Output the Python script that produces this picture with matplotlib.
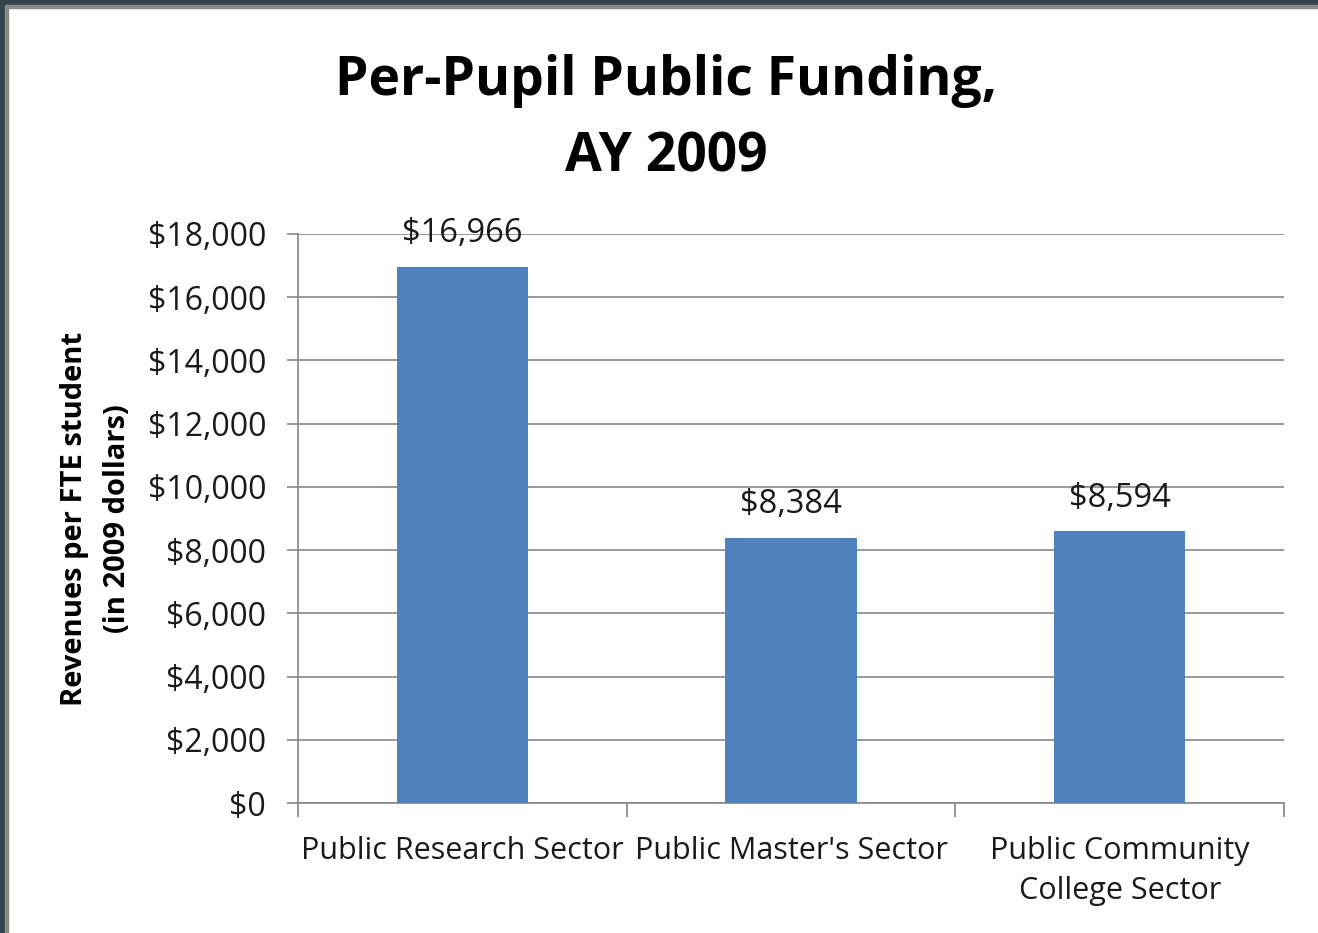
import matplotlib.pyplot as plt
import numpy as np
from matplotlib.ticker import FuncFormatter, FixedLocator

# funding per FTE student by sector
sectors = ['Public Research Sector', "Public Master's Sector", 'Public Community\nCollege Sector']
revenues = [16966, 8384, 8594]
bar_labels = ['$16,966', '$8,384', '$8,594']

plt.rcParams['font.family'] = ['Open Sans', 'DejaVu Sans']

fig = plt.figure(figsize=(13.18, 9.33), dpi=100)
ax = fig.add_axes([298/1318, 1 - 803/933, (1284-298)/1318, (803-234)/933])

x = np.arange(len(sectors))
bars = ax.bar(x, revenues, width=0.4, color='#4f81bd', zorder=3)

ax.set_xlim(-0.5, 2.5)
ax.set_ylim(0, 18000)
ax.yaxis.set_major_locator(FixedLocator(np.arange(0, 18001, 2000)))
ax.yaxis.set_major_formatter(FuncFormatter(lambda v, p: '${:,.0f}'.format(v)))
ax.grid(axis='y', color='#868686', linewidth=1.2, zorder=0)

ax.set_xticks(x)
ax.set_xticklabels(sectors, fontsize=22, color='#1a1a1a', linespacing=1.4)
ax.xaxis.set_minor_locator(FixedLocator([-0.5, 0.5, 1.5, 2.5]))
ax.tick_params(axis='x', which='major', length=0, pad=24)
ax.tick_params(axis='x', which='minor', length=10, width=1.2, color='#868686')
ax.tick_params(axis='y', length=8, width=1.2, color='#868686', labelsize=23, labelcolor='#1a1a1a', pad=15)

for s in ['top', 'right']:
    ax.spines[s].set_visible(False)
for s in ['left', 'bottom']:
    ax.spines[s].set_color('#868686')
    ax.spines[s].set_linewidth(1.2)

for rect, lab in zip(bars, bar_labels):
    ax.annotate(lab, (rect.get_x() + rect.get_width()/2, rect.get_height()),
                xytext=(0, 24), textcoords='offset points', ha='center', va='center',
                fontsize=23.5, color='#1a1a1a')

fig.text(666/1318, 1 - 119/933, 'Per-Pupil Public Funding,\nAY 2009', ha='center', va='center',
         fontsize=38.5, fontweight='bold', linespacing=1.55)
fig.text(96/1318, 1 - 519/933, 'Revenues per FTE student\n(in 2009 dollars)', ha='center', va='center',
         rotation=90, fontsize=21, fontweight='bold', linespacing=1.65)

# window frame along top and left edges
fig.patches.append(plt.Rectangle((0, 1 - 5/933), 1, 5/933, transform=fig.transFigure, color='#36454d'))
fig.patches.append(plt.Rectangle((0, 1 - 8/933), 1, 3/933, transform=fig.transFigure, color='#8a8a8a'))
fig.patches.append(plt.Rectangle((0, 0), 5/1318, 1, transform=fig.transFigure, color='#36454d'))
fig.patches.append(plt.Rectangle((5/1318, 0), 3/1318, 1 - 5/933, transform=fig.transFigure, color='#8a8a8a'))

fig.savefig('out.png', dpi=100)
